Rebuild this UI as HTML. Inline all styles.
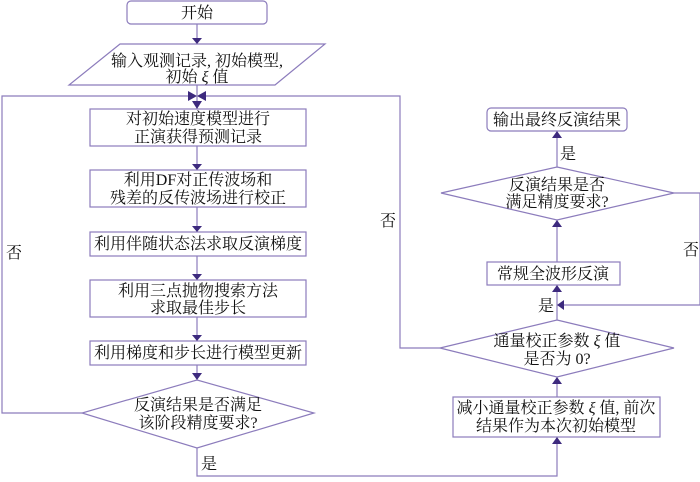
<!DOCTYPE html>
<html><head><meta charset="utf-8"><style>
body{margin:0;background:#fff}
text{font-family:"Liberation Serif","Noto Serif CJK SC",serif;font-size:16px;fill:#111;text-anchor:middle}
</style></head><body>
<svg width="700" height="477" viewBox="0 0 700 477" xmlns="http://www.w3.org/2000/svg">
<g fill="none" stroke="#8c7cbc" stroke-width="1.2">
<rect x="127" y="1" width="140" height="23" rx="4"/>
<polygon points="120,44 325,44 275,85 69,85"/>
<rect x="90" y="109" width="216" height="37"/>
<rect x="90" y="170" width="216" height="37"/>
<rect x="90" y="232" width="216" height="24"/>
<rect x="90" y="280" width="216" height="37"/>
<rect x="90" y="341" width="216" height="24"/>
<polygon points="197,380 314,413 197,448 82,413"/>
<rect x="487" y="108" width="140" height="23" rx="4"/>
<polygon points="557,167 674,193 557,220 441,193"/>
<rect x="487" y="262" width="133" height="23"/>
<polygon points="557,320 674,348 557,377 440,348"/>
<rect x="453" y="397" width="207" height="40"/>
<line x1="197" y1="24" x2="197" y2="38"/>
<line x1="197" y1="85" x2="197" y2="103"/>
<polyline points="82,413 2,413 2,96 190,96"/>
<polyline points="440,348 400,348 400,96 204,96"/>
<line x1="197" y1="146" x2="197" y2="164"/>
<line x1="197" y1="207" x2="197" y2="226"/>
<line x1="197" y1="256" x2="197" y2="274"/>
<line x1="197" y1="317" x2="197" y2="335"/>
<line x1="197" y1="365" x2="197" y2="374"/>
<polyline points="197,448 197,476 557,476 557,443"/>
<line x1="557" y1="397" x2="557" y2="383"/>
<line x1="557" y1="320" x2="557" y2="291"/>
<line x1="557" y1="262" x2="557" y2="226"/>
<line x1="557" y1="167" x2="557" y2="137"/>
<polyline points="674,193 700,193 700,305 564,305"/>
</g>
<g fill="#3d2a7e">
<polygon points="192,38 202,38 197,44"/>
<polygon points="188,91 188,101 197,96"/>
<polygon points="206,91 206,101 197,96"/>
<polygon points="192,101 202,101 197,109"/>
<polygon points="192,164 202,164 197,170"/>
<polygon points="192,226 202,226 197,232"/>
<polygon points="192,274 202,274 197,280"/>
<polygon points="192,335 202,335 197,341"/>
<polygon points="192,373 202,373 197,380"/>
<polygon points="552,444 562,444 557,437"/>
<polygon points="552,384 562,384 557,377"/>
<polygon points="552,292 562,292 557,285"/>
<polygon points="552,227 562,227 557,220"/>
<polygon points="552,138 562,138 557,131"/>
<polygon points="564,300 564,310 557,305"/>
</g>
<text x="197" y="18">开始</text>
<text x="197" y="66">输入观测记录, 初始模型,</text>
<text x="197" y="82">初始 <tspan font-style="italic">ξ</tspan> 值</text>
<text x="198" y="124">对初始速度模型进行</text>
<text x="198" y="142">正演获得预测记录</text>
<text x="198" y="185">利用DF对正传波场和</text>
<text x="198" y="203">残差的反传波场进行校正</text>
<text x="198" y="249">利用伴随状态法求取反演梯度</text>
<text x="198" y="296">利用三点抛物搜索方法</text>
<text x="198" y="313">求取最佳步长</text>
<text x="198" y="358">利用梯度和步长进行模型更新</text>
<text x="198" y="410">反演结果是否满足</text>
<text x="198" y="428">该阶段精度要求?</text>
<text x="209" y="469">是</text>
<text x="14" y="258">否</text>
<text x="388" y="226">否</text>
<text x="557" y="125">输出最终反演结果</text>
<text x="568" y="159">是</text>
<text x="557" y="190">反演结果是否</text>
<text x="557" y="207">满足精度要求?</text>
<text x="691" y="255">否</text>
<text x="553" y="279">常规全波形反演</text>
<text x="546" y="311">是</text>
<text x="557" y="346">通量校正参数 <tspan font-style="italic">ξ</tspan> 值</text>
<text x="557" y="364">是否为 0?</text>
<text x="556" y="413">减小通量校正参数 <tspan font-style="italic">ξ</tspan> 值, 前次</text>
<text x="556" y="431">结果作为本次初始模型</text>
</svg>
</body></html>
